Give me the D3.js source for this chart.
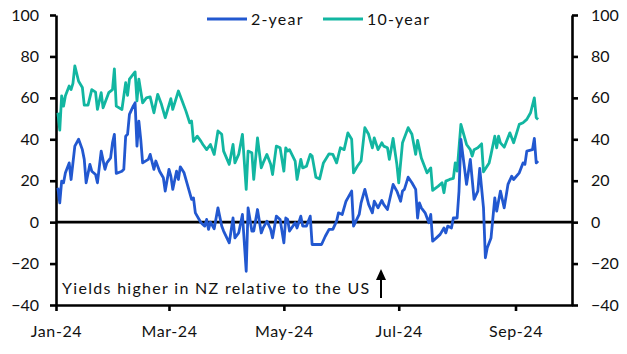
<!DOCTYPE html>
<html>
<head>
<meta charset="utf-8">
<script src="https://cdn.jsdelivr.net/npm/d3@7"></script>
<style>
  body { margin: 0; background: #fff; }
  svg { display: block; font-family: Lato, "Open Sans", sans-serif; }
</style>
</head>
<body>
<div class="chart"></div>
<script>
// series names and colours
const seriesNames = ["2-year", "10-year"];
const seriesColors = ["#2258d0", "#12b6a1"];

// 2-year spread (bp)
const twoDates = ["2024-01-02","2024-01-03","2024-01-04","2024-01-05","2024-01-06","2024-01-08","2024-01-09","2024-01-11","2024-01-13","2024-01-15","2024-01-16","2024-01-17","2024-01-19","2024-01-20","2024-01-22","2024-01-23","2024-01-25","2024-01-27","2024-01-28","2024-01-30","2024-01-31","2024-02-01","2024-02-02","2024-02-05","2024-02-06","2024-02-07","2024-02-08","2024-02-09","2024-02-11","2024-02-12","2024-02-13","2024-02-14","2024-02-15","2024-02-16","2024-02-19","2024-02-20","2024-02-22","2024-02-23","2024-02-25","2024-02-27","2024-02-28","2024-03-01","2024-03-02","2024-03-03","2024-03-05","2024-03-06","2024-03-07","2024-03-09","2024-03-11","2024-03-13","2024-03-14","2024-03-15","2024-03-18","2024-03-20","2024-03-21","2024-03-22","2024-03-23","2024-03-25","2024-03-27","2024-03-29","2024-03-30","2024-04-02","2024-04-04","2024-04-05","2024-04-07","2024-04-09","2024-04-11","2024-04-12","2024-04-14","2024-04-15","2024-04-17","2024-04-19","2024-04-20","2024-04-22","2024-04-24","2024-04-25","2024-04-27","2024-04-29","2024-05-01","2024-05-02","2024-05-03","2024-05-04","2024-05-07","2024-05-08","2024-05-10","2024-05-11","2024-05-13","2024-05-15","2024-05-16","2024-05-21","2024-05-23","2024-05-25","2024-05-27","2024-05-29","2024-05-30","2024-06-01","2024-06-03","2024-06-04","2024-06-06","2024-06-07","2024-06-10","2024-06-11","2024-06-13","2024-06-15","2024-06-17","2024-06-18","2024-06-20","2024-06-22","2024-06-23","2024-06-25","2024-06-28","2024-06-30","2024-07-02","2024-07-03","2024-07-04","2024-07-06","2024-07-08","2024-07-10","2024-07-11","2024-07-12","2024-07-13","2024-07-15","2024-07-17","2024-07-18","2024-07-19","2024-07-21","2024-07-23","2024-07-25","2024-07-26","2024-07-27","2024-07-29","2024-07-30","2024-08-01","2024-08-02","2024-08-03","2024-08-04","2024-08-06","2024-08-08","2024-08-10","2024-08-12","2024-08-13","2024-08-15","2024-08-16","2024-08-17","2024-08-19","2024-08-21","2024-08-22","2024-08-24","2024-08-26","2024-08-28","2024-08-30","2024-08-31","2024-09-03","2024-09-05","2024-09-06","2024-09-07","2024-09-10","2024-09-11","2024-09-12","2024-09-13"];
const twoValues = [16.6,9.3,19.8,19,23.8,28.6,20.6,36.7,40,35,30.3,19,27.9,24.6,23,19,34.3,25.5,28.6,31,38.3,42.4,23.5,24.6,25.5,41.5,42.4,52,56,57.6,36.7,48.8,40,28.6,30.3,32.7,25.5,29.5,24.6,21.4,15,25.5,22.2,15.8,24.6,20.6,26.7,23.8,17.4,11,11.7,4.5,-0.3,-1.9,1.3,-3.5,0,-3.2,6.9,-1.9,-4.3,-10,2,-7.6,-5.2,3.7,-23.7,6.9,-4.3,-4.3,6.1,-5.2,-2.8,0.5,-3.5,-7.6,2.9,1.3,-10,2,1.3,-4.3,-0.3,-2.8,2.9,-1.9,-1.9,2.9,-10.8,-10.8,-6.8,-3.5,-3.5,0.5,4.5,3.7,10.1,11.7,15,-1.9,3.7,9.3,15.8,8.6,4.5,10.1,6.9,10.5,8.6,6.1,18.2,15,10.1,15,15.8,21.7,19,15.8,2,9.3,6.9,4.5,-0.3,3.7,-9.2,-7.6,-5.9,-2.8,-5.2,-1.9,-2.8,2,2,15,40,32.7,18.2,30.3,11,15,25.9,6.9,-17.2,-12.4,-7.6,11.7,5.3,15,6.9,18.2,22.2,20.6,23.8,28.6,27.9,34.3,35,40.4,28.6,29.5];

// 10-year spread (bp)
const tenDates = ["2024-01-02","2024-01-03","2024-01-04","2024-01-05","2024-01-06","2024-01-08","2024-01-09","2024-01-10","2024-01-11","2024-01-13","2024-01-15","2024-01-16","2024-01-18","2024-01-20","2024-01-22","2024-01-23","2024-01-25","2024-01-26","2024-01-29","2024-01-31","2024-02-01","2024-02-02","2024-02-05","2024-02-07","2024-02-08","2024-02-09","2024-02-12","2024-02-13","2024-02-14","2024-02-16","2024-02-18","2024-02-20","2024-02-22","2024-02-24","2024-02-26","2024-02-28","2024-03-02","2024-03-03","2024-03-06","2024-03-08","2024-03-10","2024-03-12","2024-03-13","2024-03-14","2024-03-16","2024-03-18","2024-03-19","2024-03-21","2024-03-23","2024-03-25","2024-03-27","2024-03-29","2024-03-30","2024-04-02","2024-04-04","2024-04-05","2024-04-07","2024-04-09","2024-04-11","2024-04-12","2024-04-14","2024-04-15","2024-04-17","2024-04-19","2024-04-20","2024-04-22","2024-04-24","2024-04-25","2024-04-27","2024-04-29","2024-05-01","2024-05-02","2024-05-03","2024-05-04","2024-05-07","2024-05-08","2024-05-10","2024-05-11","2024-05-13","2024-05-15","2024-05-16","2024-05-18","2024-05-20","2024-05-22","2024-05-25","2024-05-27","2024-05-29","2024-05-31","2024-06-02","2024-06-04","2024-06-06","2024-06-07","2024-06-09","2024-06-11","2024-06-13","2024-06-15","2024-06-17","2024-06-18","2024-06-20","2024-06-22","2024-06-23","2024-06-25","2024-06-26","2024-06-28","2024-06-30","2024-07-01","2024-07-03","2024-07-06","2024-07-08","2024-07-10","2024-07-11","2024-07-13","2024-07-16","2024-07-18","2024-07-19","2024-07-22","2024-07-24","2024-07-25","2024-07-26","2024-07-28","2024-07-30","2024-07-31","2024-08-01","2024-08-03","2024-08-04","2024-08-06","2024-08-08","2024-08-09","2024-08-10","2024-08-12","2024-08-14","2024-08-15","2024-08-18","2024-08-19","2024-08-21","2024-08-22","2024-08-23","2024-08-24","2024-08-26","2024-08-29","2024-08-31","2024-09-03","2024-09-05","2024-09-07","2024-09-09","2024-09-11","2024-09-12","2024-09-13"];
const tenValues = [52.8,44.4,61,56,61,65.7,64,67,75.4,68,65,56.5,56.5,64,62.8,54.4,62.5,55.2,62.5,64,74,56,54.4,67.3,61.2,69,72.5,58.5,69,57.6,60,60.5,52.8,61.7,56.9,50.4,59.6,54.4,63.3,58.5,53.6,48,48.8,39,41.5,39,37.5,35,37.5,32.7,44,42.4,34.3,27.9,37.5,28.6,32.7,42.4,15.8,34.3,33.5,20.6,40.7,26.2,28.6,32.7,27.9,23,36.7,35.9,24.6,35.9,34.3,35,29.5,20.6,30.3,26.2,27,32.7,31.9,21.7,20.9,28.6,33,32.7,28.6,35.9,35,43.1,40,23.8,27,29.5,45.6,42.4,35.9,40.7,35,38.3,36.7,35.9,30.3,40.4,27.9,19,38.3,45.6,42.4,32.7,39.5,31,23.8,26.2,15.3,17.4,19,14.2,19.8,20.6,21.1,28.6,24.6,47.2,44,37.5,35,31.9,35,35.9,37.8,24.3,28.6,32.7,41.5,35.9,41.5,38.3,36.2,43.1,38.3,47.2,48,49.6,52.8,60,50.4,49.6];

// axis ticks
const yTicks = [-40, -20, 0, 20, 40, 60, 80, 100];
const xTicks = ["2024-01-01", "2024-03-01", "2024-05-01", "2024-07-01", "2024-09-01"];
const xDomain = ["2024-01-01", "2024-10-01"];

const annotation = "Yields higher in NZ relative to the US";

const W = 627, H = 354;
const margin = {top: 15, right: 55, bottom: 49, left: 56};
const parse = d3.timeParse("%Y-%m-%d");

const svg = d3.select(".chart").append("svg")
    .attr("width", W)
    .attr("height", H);

const x = d3.scaleTime()
    .domain(xDomain.map(parse))
    .range([margin.left, W - margin.right]);
const y = d3.scaleLinear()
    .domain([-40, 100])
    .range([H - margin.bottom, margin.top]);

const series = [
  {name: seriesNames[0], color: seriesColors[0], pts: twoDates.map((d, i) => ({date: parse(d), v: twoValues[i]}))},
  {name: seriesNames[1], color: seriesColors[1], pts: tenDates.map((d, i) => ({date: parse(d), v: tenValues[i]}))}
];

// left axis
const yl = svg.append("g")
    .attr("transform", `translate(${margin.left},0)`)
    .call(d3.axisLeft(y).tickValues(yTicks).tickSize(6).tickSizeOuter(0).tickPadding(11));
// right axis
const yr = svg.append("g")
    .attr("transform", `translate(${W - margin.right},0)`)
    .call(d3.axisRight(y).tickValues(yTicks).tickSize(6).tickSizeOuter(0).tickPadding(13));
// bottom axis
const xa = svg.append("g")
    .attr("transform", `translate(0,${y(-40)})`)
    .call(d3.axisBottom(x).tickValues(xTicks.map(parse)).tickFormat(d3.timeFormat("%b-%y"))
      .tickSize(6).tickSizeOuter(0).tickPadding(15));

[yl, yr, xa].forEach(g => {
  g.selectAll("path.domain").attr("stroke", "#000").attr("stroke-width", 2.6);
  g.selectAll(".tick line").attr("stroke", "#000").attr("stroke-width", 2.6);
  g.selectAll("text").attr("font-size", 16).attr("fill", "#111")
    .attr("font-family", "Lato, 'Open Sans', sans-serif");
});
xa.selectAll("text").attr("letter-spacing", 0.6);

// zero line
svg.append("line")
    .attr("x1", margin.left).attr("x2", W - margin.right)
    .attr("y1", y(0)).attr("y2", y(0))
    .attr("stroke", "#000").attr("stroke-width", 2.6);

// lines
const line = d3.line().x(d => x(d.date)).y(d => y(d.v));
svg.selectAll(".series")
  .data(series.slice().reverse())
  .join("path")
    .attr("class", "series")
    .attr("d", d => line(d.pts))
    .attr("fill", "none")
    .attr("stroke", d => d.color)
    .attr("stroke-width", 2.8)
    .attr("stroke-linejoin", "round");

// legend
const legX = [207, 323];
const leg = svg.selectAll(".leg")
  .data(series)
  .join("g")
    .attr("class", "leg")
    .attr("transform", (d, i) => `translate(${legX[i]},19)`);
leg.append("line")
    .attr("x1", 0).attr("x2", 40)
    .attr("stroke", d => d.color).attr("stroke-width", 3);
leg.append("text")
    .attr("x", 44).attr("y", 6)
    .attr("font-size", 16).attr("fill", "#111")
    .attr("letter-spacing", 1.2)
    .text(d => d.name);

// annotation
svg.append("text")
    .attr("x", 62).attr("y", 294)
    .attr("font-size", 16).attr("fill", "#111")
    .attr("letter-spacing", 1.3)
    .text(annotation);
svg.append("line")
    .attr("x1", 381).attr("x2", 381)
    .attr("y1", 298).attr("y2", 278)
    .attr("stroke", "#000").attr("stroke-width", 2);
svg.append("path")
    .attr("d", "M381,269 L386,280 L376,280 Z")
    .attr("fill", "#000");
</script>
</body>
</html>
